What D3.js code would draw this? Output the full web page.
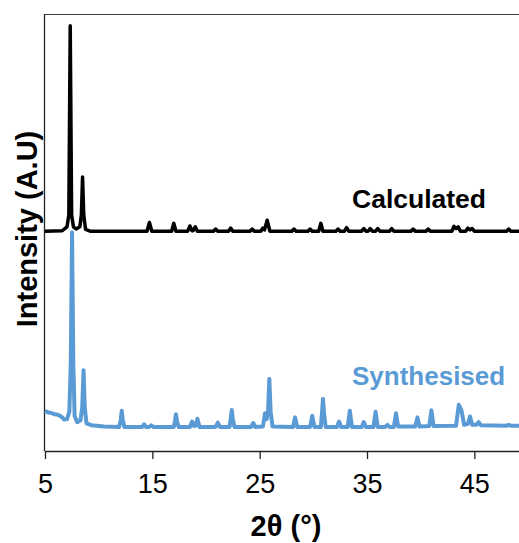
<!DOCTYPE html>
<html>
<head>
<meta charset="utf-8">
<script src="https://cdn.jsdelivr.net/npm/d3@7"></script>
<style>
html,body{margin:0;padding:0;background:#fff;overflow:hidden;}
svg{display:block;font-family:"Liberation Sans",Arial,sans-serif;}
</style>
</head>
<body>
<svg id="chart" width="519" height="543"></svg>
<script>
// ---- data (2θ in degrees, intensity in arbitrary units 0-100) ----
const calcTheta = [5.0,6.6,7.05,7.22,7.35,7.48,7.65,7.9,8.25,8.39,8.5,8.61,8.78,9.2,
  14.5,14.73,14.95,16.8,17.0,17.2,18.3,18.5,18.7,18.8,19.0,19.2,20.7,20.9,21.1,
  22.1,22.3,22.5,24.1,24.3,24.5,25.1,25.3,25.45,25.7,25.95,28.0,28.2,28.4,
  29.5,29.7,29.9,30.5,30.7,30.9,32.1,32.3,32.5,32.9,33.1,33.3,34.5,34.7,34.9,
  35.1,35.3,35.5,35.8,36.0,36.2,37.1,37.3,37.5,39.1,39.3,39.5,40.5,40.7,40.9,
  42.9,43.1,43.3,43.5,43.7,44.2,44.4,44.6,44.8,45.0,48.0,48.2,48.4,50.0];
const calcIntensity = [50.3,50.4,51.3,54,97.3,54,51.3,50.8,51.3,54,62.7,54,50.7,50.3,
  50.3,52.3,50.3,50.3,52.1,50.3,50.3,51.5,50.4,50.4,51.3,50.3,50.3,50.8,50.3,
  50.3,51.0,50.3,50.3,50.8,50.3,50.3,51.0,50.6,52.8,50.3,50.3,50.8,50.3,
  50.3,50.8,50.3,50.3,52.1,50.3,50.3,50.8,50.3,50.3,51.1,50.3,50.3,50.9,50.3,
  50.3,50.9,50.3,50.3,50.9,50.3,50.3,50.9,50.3,50.3,50.8,50.3,50.3,50.8,50.3,
  50.3,51.4,50.9,51.3,50.3,50.3,51.0,50.6,50.9,50.3,50.3,50.8,50.3,50.3];

const synthTheta = [5.0,5.3,5.6,5.9,6.2,6.5,6.8,7.05,7.27,7.4,7.52,7.64,7.76,8.0,8.3,8.47,8.59,8.7,8.87,9.3,
  10.5,11.9,12.05,12.15,12.25,12.4,14.05,14.24,14.4,14.7,14.9,15.1,17.0,17.1,17.2,17.3,17.45,
  18.5,18.7,18.9,19.05,19.2,19.4,20.9,21.1,21.3,22.2,22.3,22.4,22.5,22.65,24.2,24.4,24.6,
  25.3,25.5,25.65,25.78,25.9,26.02,26.2,28.1,28.3,28.5,29.7,29.9,30.1,30.7,30.8,30.9,31.0,31.15,
  32.2,32.4,32.6,33.2,33.4,33.6,34.5,34.7,34.9,35.6,35.8,36.0,36.7,36.9,37.1,37.5,37.7,37.9,
  39.5,39.7,39.9,40.8,41.0,41.2,43.3,43.55,43.8,44.05,44.4,44.6,44.8,45.2,45.4,45.6,48.0,48.2,48.4,50.0];
const synthIntensity = [9.2,8.8,8.7,8.4,8.3,7.9,7.2,7.3,9,20,50,20,8,6.6,7.0,10,18.5,10,6.3,5.9,
  5.6,5.5,7,9.2,7,5.5,5.5,6.1,5.5,5.5,5.9,5.5,5.5,6.8,8.4,6.8,5.5,
  5.5,6.75,5.7,5.8,7.4,5.5,5.5,6.5,5.5,5.5,7.3,9.4,7.3,5.5,5.5,6.4,5.5,
  5.6,8.65,7.3,9,16.5,9,5.6,5.5,7.7,5.5,5.5,8.05,5.5,5.5,8.5,11.9,8.5,5.5,
  5.5,6.75,5.5,5.5,9.2,5.5,5.5,6.6,5.5,5.5,9.0,5.5,5.5,6.0,5.5,5.5,8.65,5.6,
  5.6,7.7,5.6,5.7,9.3,5.7,5.8,10.6,9.3,6.0,6.2,7.9,6.0,6.0,6.6,5.9,5.8,6.0,5.8,5.8];

const xTicks = [5,15,25,35,45];
const seriesNames = ["Calculated","Synthesised"];
const seriesColors = ["#000000","#5B9BD5"];

// ---- drawing ----
const svg = d3.select("#chart");
const mLeft = 45, mRight = 528, mTop = 14, mBottom = 451;
const x = d3.scaleLinear().domain([5,50]).range([mLeft,mRight]);
const y = d3.scaleLinear().domain([0,100]).range([mBottom,mTop]);

// frame
svg.append("line").attr("x1",mLeft).attr("x2",mRight).attr("y1",mTop+0.5).attr("y2",mTop+0.5)
  .attr("stroke","#404040").attr("stroke-width",1.2);
svg.append("line").attr("x1",mLeft-0.5).attr("x2",mLeft-0.5).attr("y1",mTop).attr("y2",mBottom)
  .attr("stroke","#222").attr("stroke-width",1.3);

const line = d3.line().x(d=>x(d[0])).y(d=>y(d[1]));
const synth = synthTheta.map((t,i)=>[t,synthIntensity[i]]);
const calc = calcTheta.map((t,i)=>[t,calcIntensity[i]]);

svg.append("path").datum(synth).attr("d",line).attr("fill","none")
  .attr("stroke",seriesColors[1]).attr("stroke-width",4).attr("stroke-linejoin","round");
svg.append("path").datum(calc).attr("d",line).attr("fill","none")
  .attr("stroke",seriesColors[0]).attr("stroke-width",3.5).attr("stroke-linejoin","round");

// x axis
const ax = svg.append("g").attr("transform",`translate(0,${mBottom})`)
  .call(d3.axisBottom(x).tickValues(xTicks).tickSize(8).tickPadding(15).tickSizeOuter(0));
ax.select(".domain").attr("stroke","#222").attr("stroke-width",1.3);
ax.selectAll(".tick line").attr("stroke","#222").attr("stroke-width",1.3);
ax.selectAll(".tick text").attr("font-size",27).attr("fill","#000")
  .attr("font-family","Liberation Sans, Arial, sans-serif");

// axis titles
svg.append("text").attr("x",286).attr("y",536).attr("text-anchor","middle")
  .attr("font-size",29).attr("font-weight","bold").text("2θ (°)");
svg.append("text").attr("transform","translate(37,229) rotate(-90)").attr("text-anchor","middle")
  .attr("font-size",29).attr("font-weight","bold").text("Intensity (A.U)");

// series labels
svg.append("text").attr("x",352).attr("y",208).attr("font-size",26.5).attr("font-weight","bold")
  .attr("fill",seriesColors[0]).text(seriesNames[0]);
svg.append("text").attr("x",352).attr("y",385).attr("font-size",26).attr("font-weight","bold")
  .attr("fill",seriesColors[1]).text(seriesNames[1]);
</script>
</body>
</html>
